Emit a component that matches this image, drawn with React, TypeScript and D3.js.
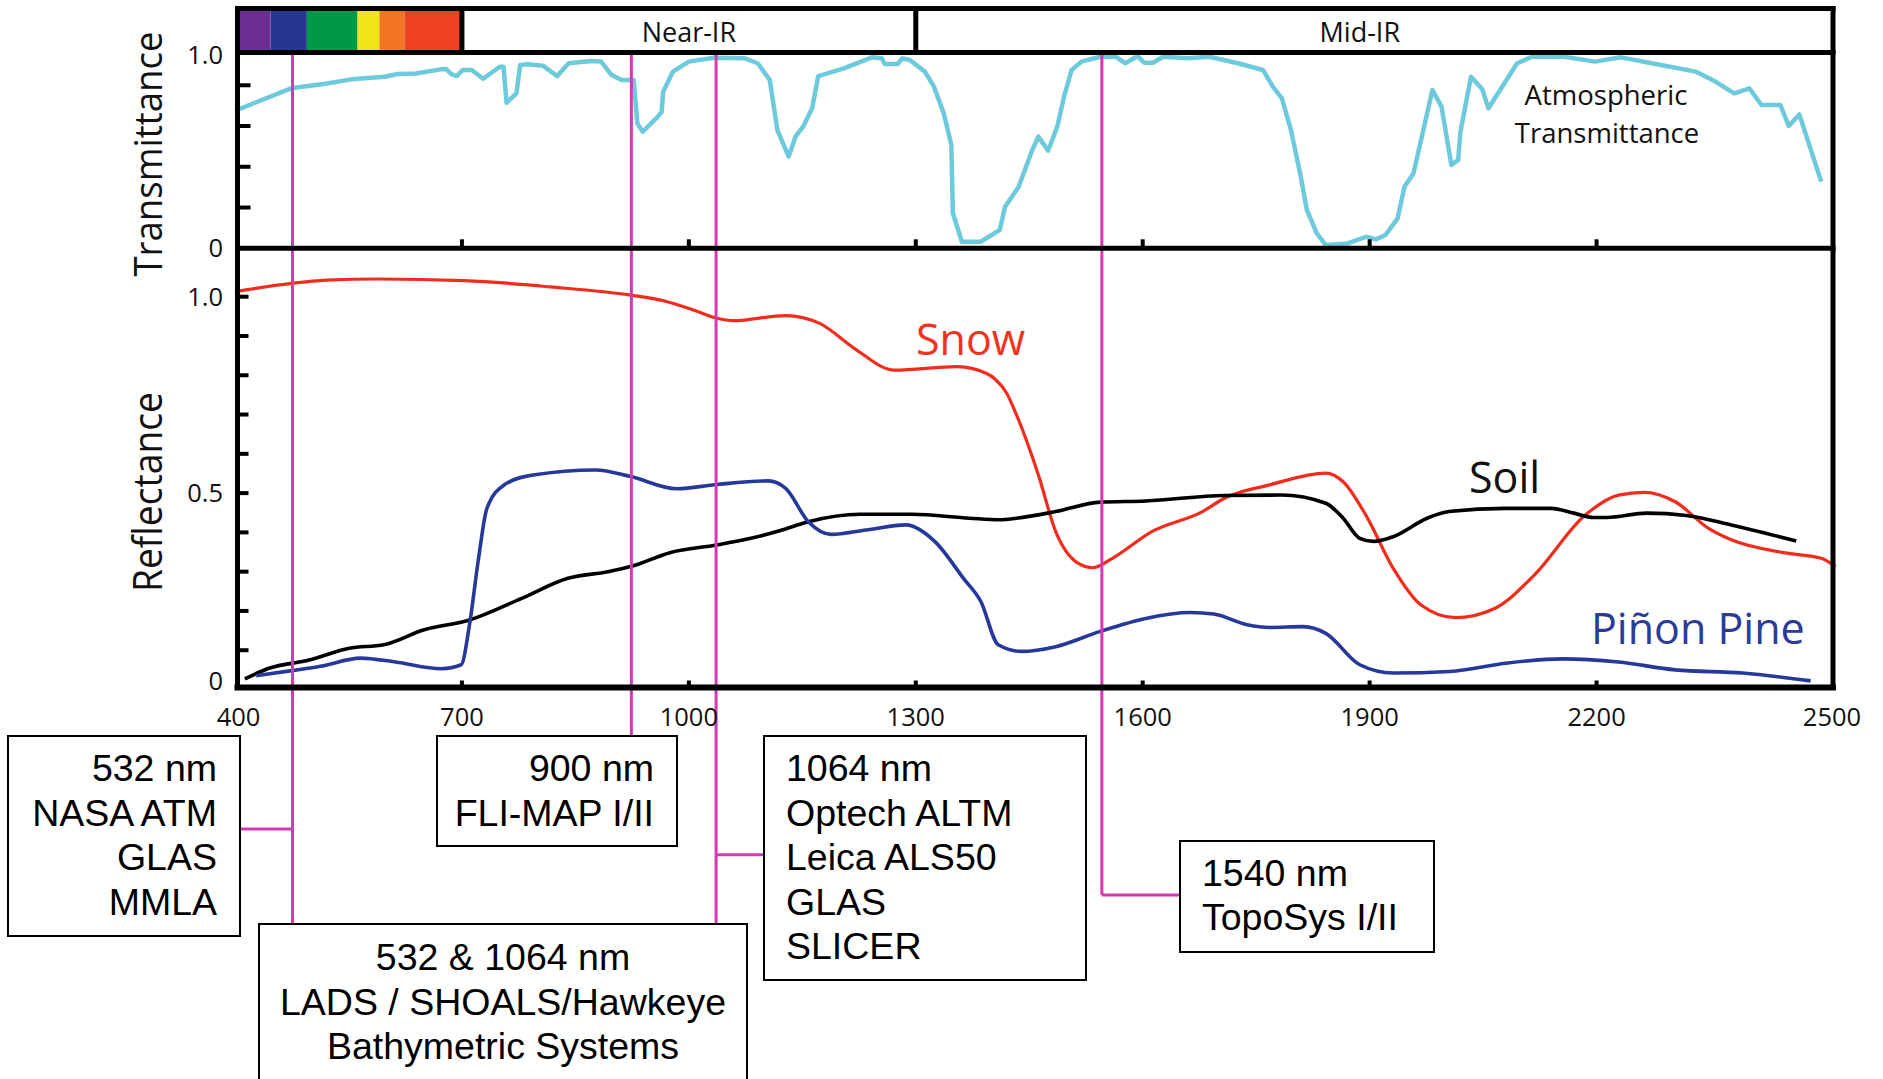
import React from "react";
import * as d3 from "d3";

// ---------- data ----------
const wavelengthTicks = [400, 700, 1000, 1300, 1600, 1900, 2200, 2500];
const innerWavelengthTicks = [700, 1000, 1300, 1600, 1900, 2200];
const transTickValues = [0.2, 0.4, 0.6, 0.8];
const transTickLabels = ["0", "1.0"];
const transTickLabelValues = [0, 1];
const reflTickValues = [0.1, 0.2, 0.3, 0.4, 0.5, 0.6, 0.7, 0.8, 0.9, 1.0];
const reflTickLabels = ["0", "0.5", "1.0"];
const reflTickLabelValues = [0, 0.5, 1];

const visibleBandEdges = [400, 447, 495, 562, 591, 624, 700];
const visibleBandColors = ["#6b2f91", "#27378f", "#00994a", "#f0e518", "#f27521", "#ef4123"];
const regionEdges = [700, 1300, 2500];
const regionNames = ["Near-IR", "Mid-IR"];
const regionLabelAt = [1000, 1887];

const laserLineAt = [476, 924, 1036, 1546];

const transmittance: [number, number][] = [
  [400, 0.675], [474, 0.785], [484, 0.79], [517, 0.806], [554, 0.829], [598, 0.842],
  [615, 0.855], [639, 0.858], [672, 0.878], [679, 0.88], [686, 0.855], [693, 0.845],
  [701, 0.875], [713, 0.875], [728, 0.832], [750, 0.891], [755, 0.891], [759, 0.714],
  [772, 0.76], [777, 0.899], [787, 0.903], [807, 0.896], [826, 0.845], [841, 0.908],
  [871, 0.919], [884, 0.916], [898, 0.85], [911, 0.826], [927, 0.826], [932, 0.613],
  [939, 0.572], [959, 0.646], [964, 0.67], [966, 0.768], [979, 0.867], [1000, 0.916],
  [1033, 0.935], [1074, 0.932], [1091, 0.908], [1107, 0.826], [1117, 0.58], [1132, 0.45],
  [1141, 0.548], [1151, 0.597], [1163, 0.687], [1171, 0.845], [1205, 0.883], [1242, 0.937],
  [1255, 0.932], [1259, 0.904], [1276, 0.904], [1282, 0.932], [1292, 0.924], [1312, 0.867],
  [1324, 0.793], [1337, 0.662], [1347, 0.507], [1349, 0.172], [1361, 0.032], [1386, 0.032],
  [1411, 0.09], [1418, 0.204], [1436, 0.302], [1454, 0.482], [1462, 0.548], [1475, 0.479],
  [1487, 0.597], [1496, 0.744], [1506, 0.875], [1519, 0.916], [1544, 0.94], [1564, 0.94],
  [1577, 0.908], [1593, 0.943], [1602, 0.911], [1614, 0.911], [1627, 0.94], [1660, 0.932],
  [1688, 0.94], [1726, 0.908], [1759, 0.875], [1772, 0.793], [1784, 0.736], [1796, 0.58],
  [1809, 0.351], [1817, 0.188], [1830, 0.074], [1842, 0.016], [1871, 0.024], [1896, 0.057],
  [1908, 0.044], [1921, 0.065], [1937, 0.147], [1946, 0.302], [1958, 0.368], [1971, 0.58],
  [1983, 0.777], [1995, 0.695], [2008, 0.409], [2017, 0.433], [2020, 0.572], [2034, 0.842],
  [2049, 0.78], [2057, 0.687], [2074, 0.785], [2095, 0.908], [2115, 0.94], [2157, 0.94],
  [2198, 0.916], [2232, 0.937], [2273, 0.908], [2331, 0.867], [2357, 0.818], [2382, 0.76],
  [2402, 0.785], [2418, 0.703], [2443, 0.703], [2454, 0.6], [2468, 0.657], [2497, 0.327],
];

const snow: [number, number][] = [
  [400, 1.013], [475, 1.034], [521, 1.042], [589, 1.045], [703, 1.041], [817, 1.025],
  [923, 1.004], [968, 0.989], [1006, 0.966], [1037, 0.945], [1059, 0.939], [1128, 0.952],
  [1173, 0.932], [1219, 0.868], [1272, 0.813], [1355, 0.822], [1393, 0.805], [1405, 0.79],
  [1420, 0.755], [1433, 0.7], [1462, 0.547], [1485, 0.402], [1515, 0.321], [1534, 0.31],
  [1560, 0.334], [1612, 0.402], [1679, 0.453], [1708, 0.487], [1768, 0.521], [1842, 0.551],
  [1865, 0.529], [1895, 0.444], [1931, 0.309], [1968, 0.215], [2013, 0.183], [2066, 0.207],
  [2118, 0.292], [2185, 0.444], [2229, 0.495], [2263, 0.502], [2304, 0.478], [2348, 0.41],
  [2378, 0.381], [2452, 0.347], [2497, 0.334], [2516, 0.313],
];

const soil: [number, number][] = [
  [413, 0.027], [445, 0.054], [498, 0.075], [551, 0.105], [597, 0.114], [650, 0.152],
  [710, 0.177], [779, 0.232], [840, 0.283], [893, 0.3], [923, 0.313], [976, 0.349],
  [1037, 0.368], [1082, 0.385], [1120, 0.404], [1158, 0.427], [1226, 0.446], [1295, 0.446],
  [1371, 0.436], [1411, 0.432], [1433, 0.436], [1485, 0.453], [1544, 0.477], [1604, 0.48],
  [1708, 0.494], [1783, 0.495], [1842, 0.474], [1865, 0.436], [1887, 0.385], [1905, 0.377],
  [1931, 0.389], [1976, 0.436], [2005, 0.453], [2080, 0.461], [2140, 0.461], [2170, 0.449],
  [2196, 0.438], [2214, 0.438], [2266, 0.449], [2319, 0.443], [2378, 0.419], [2464, 0.378],
];

const pinon: [number, number][] = [
  [428, 0.035], [475, 0.048], [513, 0.059], [566, 0.08], [612, 0.07], [673, 0.053],
  [699, 0.063], [710, 0.165], [722, 0.334], [733, 0.461], [756, 0.521], [794, 0.546],
  [877, 0.559], [923, 0.542], [984, 0.511], [1037, 0.522], [1105, 0.531], [1128, 0.512],
  [1158, 0.427], [1188, 0.395], [1234, 0.406], [1287, 0.419], [1325, 0.377], [1363, 0.283],
  [1386, 0.224], [1409, 0.114], [1440, 0.097], [1485, 0.109], [1544, 0.148], [1604, 0.181],
  [1663, 0.196], [1694, 0.192], [1738, 0.165], [1768, 0.158], [1812, 0.16], [1842, 0.143],
  [1887, 0.063], [1931, 0.042], [2006, 0.046], [2080, 0.067], [2155, 0.078], [2229, 0.07],
  [2304, 0.05], [2393, 0.042], [2483, 0.022],
];

const box532Lines = ["532 nm", "NASA ATM", "GLAS", "MMLA"];
const box900Lines = ["900 nm", "FLI-MAP I/II"];
const box1064Lines = ["1064 nm", "Optech ALTM", "Leica ALS50", "GLAS", "SLICER"];
const box1540Lines = ["1540 nm", "TopoSys I/II"];
const boxBathyLines = ["532 & 1064 nm", "LADS / SHOALS/Hawkeye", "Bathymetric Systems"];

// ---------- component ----------
export default function App() {
  const x = d3.scaleLinear().domain([400, 2500]).range([235, 1823.5]);
  const yT = d3.scaleLinear().domain([0, 1]).range([248.3, 44.5]);
  const yR = d3.scaleLinear().domain([0, 1]).range([689.5, 296.7]);

  const fL = 237.5, fR = 1833, fT = 8.5, rowB = 52.5, mid = 248.3, fB = 687.5;
  const chartFont = "'Open Sans', 'DejaVu Sans', sans-serif";
  const boxFont = "'Liberation Sans', Arial, sans-serif";

  const tLine = d3.line<[number, number]>().x((d) => x(d[0])).y((d) => yT(d[1])).curve(d3.curveLinear);
  const rLine = d3.line<[number, number]>().x((d) => x(d[0])).y((d) => yR(d[1])).curve(d3.curveMonotoneX);

  // end labels sit on the frame edges in the reference
  const xLabelPos = (t: number) => (t === 400 ? fL + 1 : t === 2500 ? fR - 1 : x(t));

  const magenta = "#d936b4";
  const lineTop = 55;
  const laserEnds = [924, 736, 924, 895];
  const laserConnectors = [
    { y: 829, toX: 240 },
    null,
    { y: 854.7, toX: 764 },
    { y: 895, toX: 1180 },
  ];

  const boxes = [
    { lines: box532Lines, x: 8, y: 736, w: 232, h: 200, anchor: "end", tx: 217, base: 781 },
    { lines: box900Lines, x: 437, y: 736, w: 240, h: 110, anchor: "end", tx: 654, base: 781 },
    { lines: box1064Lines, x: 764, y: 736, w: 322, h: 244, anchor: "start", tx: 786, base: 781 },
    { lines: box1540Lines, x: 1180, y: 841, w: 254, h: 111, anchor: "start", tx: 1202, base: 885.5 },
    { lines: boxBathyLines, x: 259, y: 924, w: 488, h: 200, anchor: "middle", tx: 503, base: 970 },
  ];
  const lineGap = 44.5;

  return (
    <svg
      width={1883}
      height={1079}
      viewBox="0 0 1883 1079"
      style={{ position: "absolute", left: 0, top: 0, display: "block", background: "#fff" }}
    >
      <rect x={0} y={0} width={1883} height={1079} fill="#fff" />

      {/* visible spectrum colour bar */}
      {visibleBandColors.map((c, i) => (
        <rect
          key={"band" + i}
          x={x(visibleBandEdges[i])}
          y={fT}
          width={x(visibleBandEdges[i + 1]) - x(visibleBandEdges[i])}
          height={rowB - fT}
          fill={c}
        />
      ))}

      {/* region labels */}
      {regionNames.map((n, i) => (
        <text
          key={n}
          x={x(regionLabelAt[i])}
          y={41.5}
          textAnchor="middle"
          fontFamily={chartFont}
          fontSize={27}
          fill="#111"
        >
          {n}
        </text>
      ))}

      {/* curves */}
      <path d={tLine(transmittance) || ""} fill="none" stroke="#6ccadc" strokeWidth={4.5} strokeLinejoin="round" />
      <path d={rLine(snow) || ""} fill="none" stroke="#f22c1c" strokeWidth={3.2} />
      <path d={rLine(soil) || ""} fill="none" stroke="#000" strokeWidth={3.6} />
      <path d={rLine(pinon) || ""} fill="none" stroke="#26399a" strokeWidth={3.6} />

      {/* laser wavelength lines */}
      {laserLineAt.map((w, i) => {
        const lx = x(w);
        const c = laserConnectors[i];
        return (
          <g key={"laser" + i}>
            <line x1={lx} x2={lx} y1={lineTop} y2={laserEnds[i]} stroke={magenta} strokeWidth={3} />
            {c && <line x1={lx} x2={c.toX} y1={c.y} y2={c.y} stroke={magenta} strokeWidth={3} />}
          </g>
        );
      })}

      {/* frame */}
      <g stroke="#000" fill="none" strokeLinecap="square">
        <line x1={fL} x2={fL} y1={fT} y2={fB} strokeWidth={5} />
        <line x1={fR} x2={fR} y1={fT} y2={fB} strokeWidth={5} />
        <line x1={fL} x2={fR} y1={fT} y2={fT} strokeWidth={5} />
        <line x1={fL} x2={fR} y1={rowB} y2={rowB} strokeWidth={5} />
        <line x1={fL} x2={fR} y1={mid} y2={mid} strokeWidth={5} />
        <line x1={fL} x2={fR} y1={fB} y2={fB} strokeWidth={6} />
        {regionEdges.slice(0, 2).map((e) => (
          <line key={"re" + e} x1={x(e)} x2={x(e)} y1={fT} y2={rowB} strokeWidth={5} strokeLinecap="butt" />
        ))}
      </g>

      {/* x ticks */}
      <g stroke="#000" strokeWidth={4}>
        {innerWavelengthTicks.map((t) => (
          <g key={"xt" + t}>
            <line x1={x(t)} x2={x(t)} y1={mid} y2={mid - 9} />
            <line x1={x(t)} x2={x(t)} y1={fB} y2={fB - 7} />
          </g>
        ))}
      </g>
      {wavelengthTicks.map((t) => (
        <text key={"xl" + t} x={xLabelPos(t)} y={725.5} textAnchor="middle" fontFamily={chartFont} fontSize={25.5} fill="#111">
          {t}
        </text>
      ))}

      {/* y ticks */}
      <g stroke="#000" strokeWidth={4}>
        {transTickValues.map((v) => (
          <line key={"tt" + v} x1={fL} x2={fL + 13} y1={yT(v)} y2={yT(v)} />
        ))}
        {reflTickValues.map((v) => (
          <line key={"rt" + v} x1={fL} x2={fL + 11} y1={yR(v)} y2={yR(v)} />
        ))}
      </g>
      {transTickLabels.map((l, i) => (
        <text
          key={"tl" + l}
          x={223}
          y={transTickLabelValues[i] === 1 ? 55 : yT(transTickLabelValues[i])}
          dy="0.35em"
          textAnchor="end"
          fontFamily={chartFont}
          fontSize={25.5}
          fill="#111"
        >
          {l}
        </text>
      ))}
      {reflTickLabels.map((l, i) => (
        <text
          key={"rl" + l}
          x={223}
          y={reflTickLabelValues[i] === 0 ? yR(0) - 8 : yR(reflTickLabelValues[i])}
          dy="0.35em"
          textAnchor="end"
          fontFamily={chartFont}
          fontSize={25.5}
          fill="#111"
        >
          {l}
        </text>
      ))}

      {/* axis titles */}
      <text
        transform="translate(162,154) rotate(-90)"
        textAnchor="middle"
        fontFamily={chartFont}
        fontSize={38}
        textLength={245}
        lengthAdjust="spacingAndGlyphs"
        fill="#111"
      >
        Transmittance
      </text>
      <text
        transform="translate(162,492) rotate(-90)"
        textAnchor="middle"
        fontFamily={chartFont}
        fontSize={40}
        textLength={200}
        lengthAdjust="spacingAndGlyphs"
        fill="#111"
      >
        Reflectance
      </text>

      {/* series labels */}
      <text x={1606} y={105} textAnchor="middle" fontFamily={chartFont} fontSize={27.5} fill="#111">
        Atmospheric
      </text>
      <text x={1607} y={142.7} textAnchor="middle" fontFamily={chartFont} fontSize={27.5} fill="#111">
        Transmittance
      </text>
      <text x={916} y={355} fontFamily={chartFont} fontSize={43} fill="#f0321f">
        Snow
      </text>
      <text x={1469} y={493} fontFamily={chartFont} fontSize={43} fill="#111">
        Soil
      </text>
      <text x={1591} y={644} fontFamily={chartFont} fontSize={43} fill="#2a3b98">
        Piñon Pine
      </text>

      {/* annotation boxes */}
      {boxes.map((b, i) => (
        <g key={"box" + i}>
          <rect x={b.x} y={b.y} width={b.w} height={b.h} fill="#fff" stroke="#000" strokeWidth={2} />
          {b.lines.map((t, j) => (
            <text
              key={j}
              x={b.tx}
              y={b.base + j * lineGap}
              textAnchor={b.anchor as any}
              fontFamily={boxFont}
              fontSize={37.5}
              fill="#000"
            >
              {t}
            </text>
          ))}
        </g>
      ))}
    </svg>
  );
}
